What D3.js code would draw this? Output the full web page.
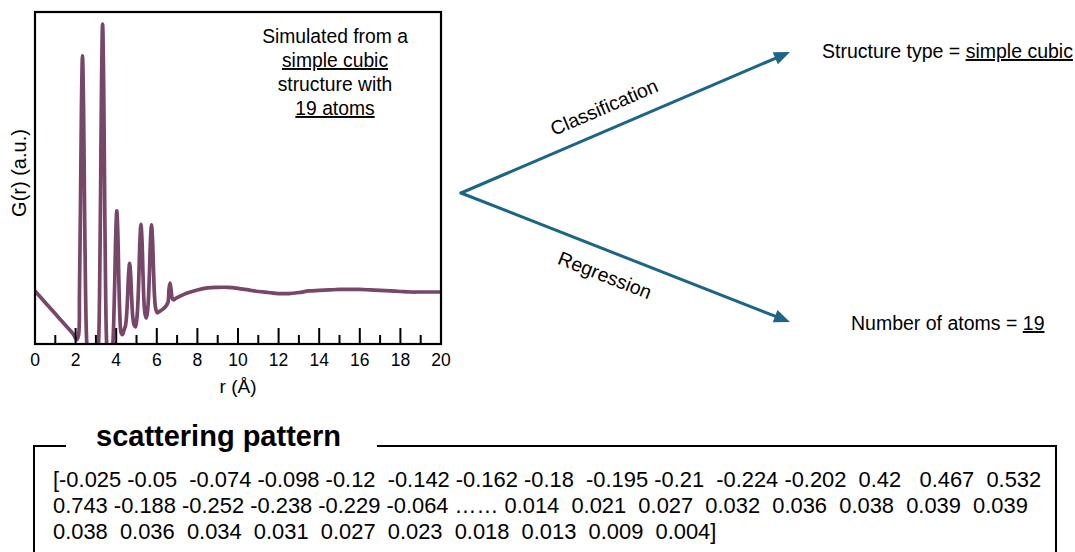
<!DOCTYPE html>
<html>
<head>
<meta charset="utf-8">
<script src="https://cdn.jsdelivr.net/npm/d3@7"></script>
<style>
  html, body { margin: 0; padding: 0; background: #fff; }
  svg { display: block; font-family: "Liberation Sans", Arial, Helvetica, sans-serif; }
</style>
</head>
<body>
<svg id="fig" width="1075" height="552"></svg>
<script>
// Pair distribution function G(r), sampled along r (Å)
const rPoints = [0, 0.5, 1, 1.5, 1.9, 2.05, 2.14, 2.19, 2.24, 2.29, 2.34, 2.39, 2.44, 2.49, 2.54, 2.6, 2.7, 2.85,
  3.0, 3.08, 3.13, 3.18, 3.23, 3.28, 3.33, 3.38, 3.43, 3.48, 3.53, 3.6, 3.7, 3.78, 3.83, 3.88, 3.93, 3.98,
  4.03, 4.08, 4.13, 4.18, 4.24, 4.31, 4.38, 4.46, 4.51, 4.56, 4.61, 4.66, 4.71, 4.76, 4.81, 4.87, 4.95,
  5.02, 5.07, 5.12, 5.17, 5.22, 5.27, 5.32, 5.37, 5.42, 5.48, 5.54, 5.59, 5.64, 5.69, 5.74, 5.79, 5.84, 5.89, 5.95,
  6.02, 6.15, 6.3, 6.45, 6.55, 6.6, 6.65, 6.7, 6.76, 6.82, 6.95, 7.2, 7.5, 8, 8.5, 9, 9.5, 10, 10.5, 11, 11.5,
  12, 12.5, 13, 13.5, 14, 14.5, 15, 15.5, 16, 16.5, 17, 17.5, 18, 18.5, 19, 19.5, 20];
const gPoints = [0.02, -0.2, -0.42, -0.64, -0.82, -0.92, -0.84, 0.0, 1.67, 3.62, 4.54, 3.62, 1.67, 0.0, -0.9, -1.3, -1.5, -1.55,
  -1.45, -1.2, -0.99, -0.03, 1.88, 4.1, 5.15, 4.1, 1.88, -0.03, -0.99, -1.35, -1.45, -1.25, -1.05, -0.54, 0.23, 1.13,
  1.56, 1.13, 0.23, -0.45, -0.78, -0.82, -0.74, -0.64, -0.46, -0.1, 0.34, 0.55, 0.34, -0.1, -0.45, -0.62, -0.67,
  -0.5, -0.2, 0.35, 1.0, 1.30, 1.0, 0.35, -0.2, -0.42, -0.5, -0.39, -0.12, 0.4, 1.0, 1.29, 1.0, 0.4, -0.1, -0.33,
  -0.4, -0.37, -0.33, -0.27, -0.2, 0.05, 0.17, 0.05, -0.12, -0.15, -0.12, -0.07, -0.02, 0.04, 0.08, 0.09, 0.09, 0.07, 0.04, 0.01, -0.01,
  -0.03, -0.03, -0.01, 0.02, 0.03, 0.04, 0.05, 0.05, 0.05, 0.04, 0.03, 0.02, 0.01, 0.0, 0.0, 0.0, 0.0];

const majorTicks = [0, 2, 4, 6, 8, 10, 12, 14, 16, 18, 20];
const minorTicks = [1, 3, 5, 7, 9, 11, 13, 15, 17, 19];

const noteLines = [
  { text: "Simulated from a", underline: false },
  { text: "simple cubic", underline: true },
  { text: "structure with", underline: false },
  { text: "19 atoms", underline: true }
];

const classLabel = "Classification";
const regLabel = "Regression";
const classResult = ["Structure type = ", "simple cubic"];
const regResult = ["Number of atoms = ", "19"];

const patternTitle = "scattering pattern";
const patternRows = [
  "[-0.025 -0.05  -0.074 -0.098 -0.12  -0.142 -0.162 -0.18  -0.195 -0.21  -0.224 -0.202  0.42   0.467  0.532",
  "0.743 -0.188 -0.252 -0.238 -0.229 -0.064 \u2026\u2026 0.014  0.021  0.027  0.032  0.036  0.038  0.039  0.039",
  "0.038  0.036  0.034  0.031  0.027  0.023  0.018  0.013  0.009  0.004]"
];

// ---- layout ----
const svg = d3.select("#fig");
const plot = { left: 35, right: 441, top: 12, bottom: 344 };
const curveColor = "#774668";
const arrowColor = "#1e6485";

const x = d3.scaleLinear().domain([0, 20]).range([plot.left, plot.right]);
const y = d3.scaleLinear().domain([-1, 5.385]).range([plot.bottom, plot.top]);

svg.append("defs").append("clipPath").attr("id", "plotClip")
  .append("rect")
  .attr("x", plot.left).attr("y", plot.top)
  .attr("width", plot.right - plot.left).attr("height", plot.bottom - plot.top);

// G(r) curve
const pts = rPoints.map((r, i) => [r, gPoints[i]]);
const line = d3.line()
  .x(d => x(d[0]))
  .y(d => y(d[1]))
  .curve(d3.curveCatmullRom.alpha(0.5));

svg.append("path")
  .datum(pts)
  .attr("clip-path", "url(#plotClip)")
  .attr("d", line)
  .attr("fill", "none")
  .attr("stroke", curveColor)
  .attr("stroke-width", 3.7)
  .attr("stroke-linejoin", "round")
  .attr("stroke-linecap", "round");

// frame
svg.append("rect")
  .attr("x", plot.left).attr("y", plot.top)
  .attr("width", plot.right - plot.left).attr("height", plot.bottom - plot.top)
  .attr("fill", "none").attr("stroke", "#000").attr("stroke-width", 2.2);

// inward ticks on the bottom edge
const tickG = svg.append("g").attr("class", "ticks");
tickG.append("path")
  .attr("d", majorTicks.map(d => `M${x(d)},${plot.bottom}V${plot.bottom - 16}`).join(""))
  .attr("fill", "none")
  .attr("stroke", "#000")
  .attr("stroke-width", 2);
tickG.append("path")
  .attr("d", minorTicks.map(d => `M${x(d)},${plot.bottom}V${plot.bottom - 9}`).join(""))
  .attr("fill", "none")
  .attr("stroke", "#000")
  .attr("stroke-width", 2);
tickG.selectAll("text").data(majorTicks).join("text")
  .attr("x", d => x(d)).attr("y", 366)
  .attr("text-anchor", "middle")
  .style("font-size", "17.5px")
  .text(d3.format("d"));

// axis titles
svg.append("text")
  .attr("transform", "translate(26,173) rotate(-90)")
  .attr("text-anchor", "middle")
  .style("font-size", "20px")
  .text("G(r) (a.u.)");

svg.append("text")
  .attr("x", 238).attr("y", 393)
  .attr("text-anchor", "middle")
  .style("font-size", "19px")
  .text("r (\u00C5)");

// note inside the plot
const note = svg.append("text")
  .attr("text-anchor", "middle")
  .style("font-size", "19.3px");
noteLines.forEach((d, i) => {
  note.append("tspan")
    .attr("x", 335).attr("y", 43 + i * 24)
    .style("text-decoration", d.underline ? "underline" : "none")
    .text(d.text);
});

// arrows
const origin = [461, 193];
const tips = [[790, 52], [790, 322]];
tips.forEach(tip => {
  const dx = tip[0] - origin[0], dy = tip[1] - origin[1];
  const len = Math.hypot(dx, dy);
  const ux = dx / len, uy = dy / len;
  const headLen = 16, headHalf = 6.5;
  const bx = tip[0] - ux * headLen, by = tip[1] - uy * headLen;
  svg.append("line")
    .attr("x1", origin[0]).attr("y1", origin[1])
    .attr("x2", bx + ux * 2).attr("y2", by + uy * 2)
    .attr("stroke", arrowColor).attr("stroke-width", 3)
    .attr("stroke-linecap", "round");
  svg.append("path")
    .attr("d", d3.line()([
      tip,
      [bx - uy * headHalf, by + ux * headHalf],
      [bx + uy * headHalf, by - ux * headHalf]
    ]) + "Z")
    .attr("fill", arrowColor);
});

const angUp = Math.atan2(tips[0][1] - origin[1], tips[0][0] - origin[0]) * 180 / Math.PI;
const angDown = Math.atan2(tips[1][1] - origin[1], tips[1][0] - origin[0]) * 180 / Math.PI;

svg.append("text")
  .attr("transform", `translate(604,107) rotate(${angUp})`)
  .attr("text-anchor", "middle")
  .attr("dominant-baseline", "central")
  .style("font-size", "19.5px")
  .text(classLabel);

svg.append("text")
  .attr("transform", `translate(605,275) rotate(${angDown})`)
  .attr("text-anchor", "middle")
  .attr("dominant-baseline", "central")
  .style("font-size", "19.5px")
  .text(regLabel);

// results
function resultText(parts, xPos, yPos) {
  const t = svg.append("text").attr("x", xPos).attr("y", yPos).style("font-size", "19.5px");
  t.append("tspan").style("white-space", "pre").text(parts[0]);
  t.append("tspan").style("text-decoration", "underline").text(parts[1]);
}
resultText(classResult, 822, 58);
resultText(regResult, 851, 330);

// scattering pattern box
svg.append("path")
  .attr("d", "M66,446 H34 V552 M377,446 H1056 V552")
  .attr("fill", "none").attr("stroke", "#000").attr("stroke-width", 2);

svg.append("text")
  .attr("x", 96).attr("y", 446)
  .style("font-size", "29px").style("font-weight", "bold")
  .text(patternTitle);

const rows = svg.append("text").style("font-size", "21.9px").style("white-space", "pre");
patternRows.forEach((s, i) => {
  rows.append("tspan").attr("x", 53).attr("y", 487 + i * 26).text(s);
});
</script>
</body>
</html>
